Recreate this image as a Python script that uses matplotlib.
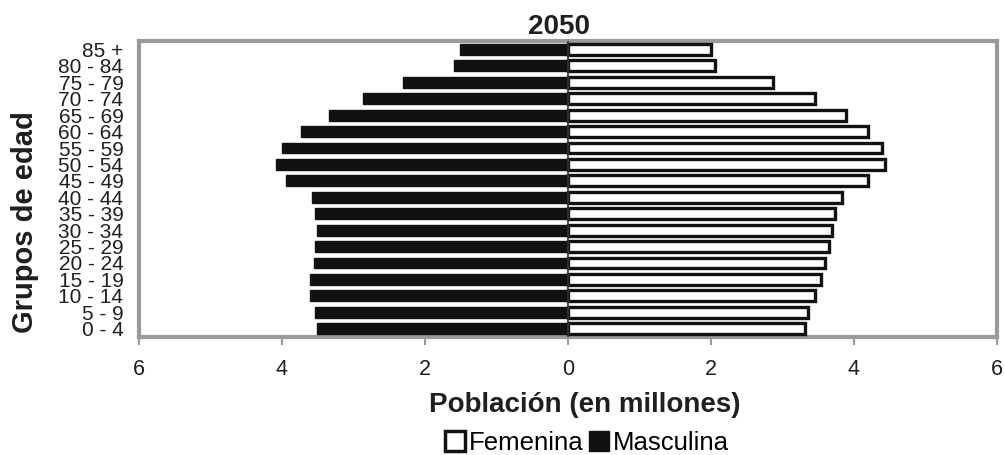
import numpy as np
import matplotlib
matplotlib.use('Agg')
import matplotlib.pyplot as plt
from matplotlib.patches import Patch

# grupos de edad (de abajo hacia arriba)
grupos = ['0 - 4', '5 - 9', '10 - 14', '15 - 19', '20 - 24', '25 - 29', '30 - 34',
          '35 - 39', '40 - 44', '45 - 49', '50 - 54', '55 - 59', '60 - 64',
          '65 - 69', '70 - 74', '75 - 79', '80 - 84', '85 +']
masculina = [3.50, 3.54, 3.61, 3.61, 3.55, 3.54, 3.51, 3.54, 3.58, 3.94,
             4.08, 3.99, 3.73, 3.34, 2.87, 2.31, 1.59, 1.51]
femenina = [3.31, 3.36, 3.45, 3.54, 3.59, 3.65, 3.69, 3.73, 3.83, 4.20,
            4.43, 4.39, 4.20, 3.89, 3.45, 2.87, 2.06, 2.00]
xticks = [-6, -4, -2, 0, 2, 4, 6]
xticklabels = ['6', '4', '2', '0', '2', '4', '6']

fam = ['Liberation Sans', 'DejaVu Sans']
txt = '#1f1f1f'
gris = '#9a9a9a'

fig = plt.figure(figsize=(10.05, 4.55), dpi=100)
ax = fig.add_axes([0.138, 0.259, 0.854, 0.651])

y = np.arange(len(grupos))
ax.barh(y, -np.array(masculina), height=0.66, color='#111111', edgecolor='#111111',
        linewidth=1.0, zorder=3)
ax.barh(y, femenina, height=0.66, color='white', edgecolor='#111111',
        linewidth=2.4, zorder=3)

ax.set_xlim(-6, 6)
ax.set_ylim(-0.52, 17.52)
ax.set_xticks(xticks)
ax.set_xticklabels(xticklabels, family=fam, fontsize=15.5, color=txt)
ax.set_yticks(y)
ax.set_yticklabels(grupos, family=fam, fontsize=15, color=txt)
ax.tick_params(axis='y', length=0, pad=11)
ax.tick_params(axis='x', length=6, width=1.5, color=gris, pad=10)
ax.axvline(0, color='#333333', lw=1.2, zorder=4)

for s in ax.spines.values():
    s.set_color(gris)
    s.set_linewidth(3)

ax.set_title('2050', family=fam, fontweight='bold', fontsize=20, color=txt,
             x=0.49, pad=5)
ax.set_xlabel('Población (en millones)', family=fam, fontweight='bold',
              fontsize=20, color=txt)
ax.xaxis.set_label_coords(0.52, -0.185)
ax.set_ylabel('Grupos de edad', family=fam, fontweight='bold', fontsize=21,
              color=txt)
ax.yaxis.set_label_coords(-0.116, 0.39)

handles = [Patch(facecolor='white', edgecolor='#111111', linewidth=2.5, label='Femenina'),
           Patch(facecolor='#111111', edgecolor='#111111', label='Masculina')]
fig.legend(handles=handles, loc='center', bbox_to_anchor=(0.584, 0.027), ncol=2,
           frameon=False, handlelength=0.75, handleheight=0.85, handletextpad=0.15,
           columnspacing=0.25, borderpad=0, prop={'family': fam, 'size': 18.5})

plt.savefig('out.png', dpi=100)
